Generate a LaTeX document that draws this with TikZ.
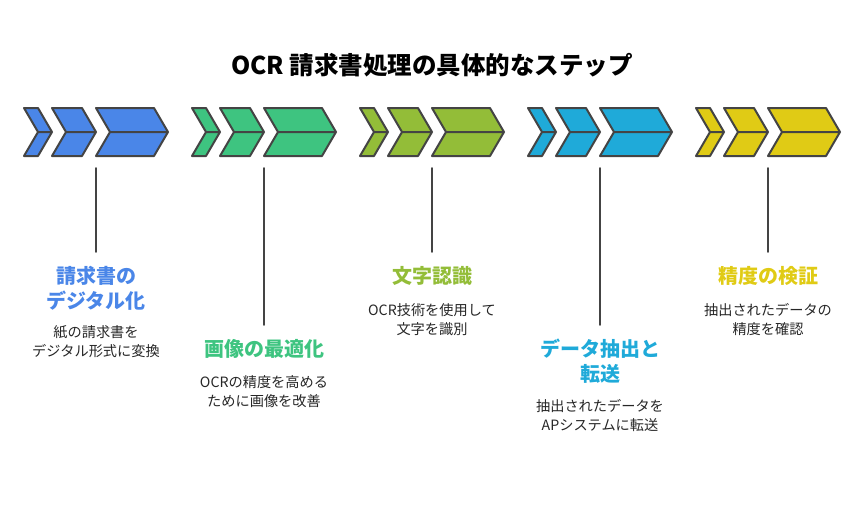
\documentclass[tikz,border=0pt]{standalone}
\usepackage{fontspec}
\setmainfont{Noto Sans CJK JP}
\definecolor{edgegray}{HTML}{444444}
\definecolor{stepblue}{HTML}{4A86E8}
\definecolor{stepgreen}{HTML}{3EC480}
\definecolor{stepolive}{HTML}{93BD38}
\definecolor{stepcyan}{HTML}{1FAAD9}
\definecolor{stepyellow}{HTML}{E0CB15}
\begin{document}
\begin{tikzpicture}[x=1pt, y=-1pt, line join=round, line cap=round,
  chev/.style={draw=edgegray, line width=2pt},
  stem/.style={draw=edgegray, line width=1.6pt},
  head/.style={font=\bfseries\fontsize{20}{25}\selectfont, align=center, anchor=north, inner sep=0pt},
  body/.style={font=\fontsize{14.2}{19.5}\selectfont, align=center, anchor=north, inner sep=0pt, text=black!85}]
\useasboundingbox (0,0) rectangle (864,504);
\node[font=\bfseries\fontsize{24.5}{28}\selectfont] (title) at (432,65) {OCR 請求書処理の具体的なステップ};
% chevrons
\foreach \i/\x/\c in {1/24/stepblue, 2/192/stepgreen, 3/360/stepolive, 4/528/stepcyan, 5/696/stepyellow}{
  \begin{scope}[shift={(\x,132)}]
    \foreach \a/\b in {0/14, 28/58, 72/130}
      \filldraw[chev, fill=\c] (\a,-24) -- (\b,-24) -- (\b+14,0) -- (\b,24) -- (\a,24) -- (\a+14,0) -- cycle
        (\a+14,0) -- (\b+14,0);
    \coordinate (s\i) at (72,36);
  \end{scope}
}
% labels
\node[head, text=stepblue] (t1) at (96,266) {請求書の\\デジタル化};
\node[body] (b1) at (96,325) {紙の請求書を\\デジタル形式に変換};
\node[head, text=stepgreen] (t2) at (264,339) {画像の最適化};
\node[body] (b2) at (264,375) {OCRの精度を高める\\ために画像を改善};
\node[head, text=stepolive] (t3) at (432,266) {文字認識};
\node[body] (b3) at (432,303) {OCR技術を使用して\\文字を識別};
\node[head, text=stepcyan] (t4) at (600,339) {データ抽出と\\転送};
\node[body] (b4) at (600,399) {抽出されたデータを\\APシステムに転送};
\node[head, text=stepyellow] (t5) at (768,266) {精度の検証};
\node[body] (b5) at (768,303) {抽出されたデータの\\精度を確認};
% stems
\foreach \i in {1,...,5}
  \draw[stem] (s\i) -- ([yshift=14pt]t\i.north);
\end{tikzpicture}
\end{document}
